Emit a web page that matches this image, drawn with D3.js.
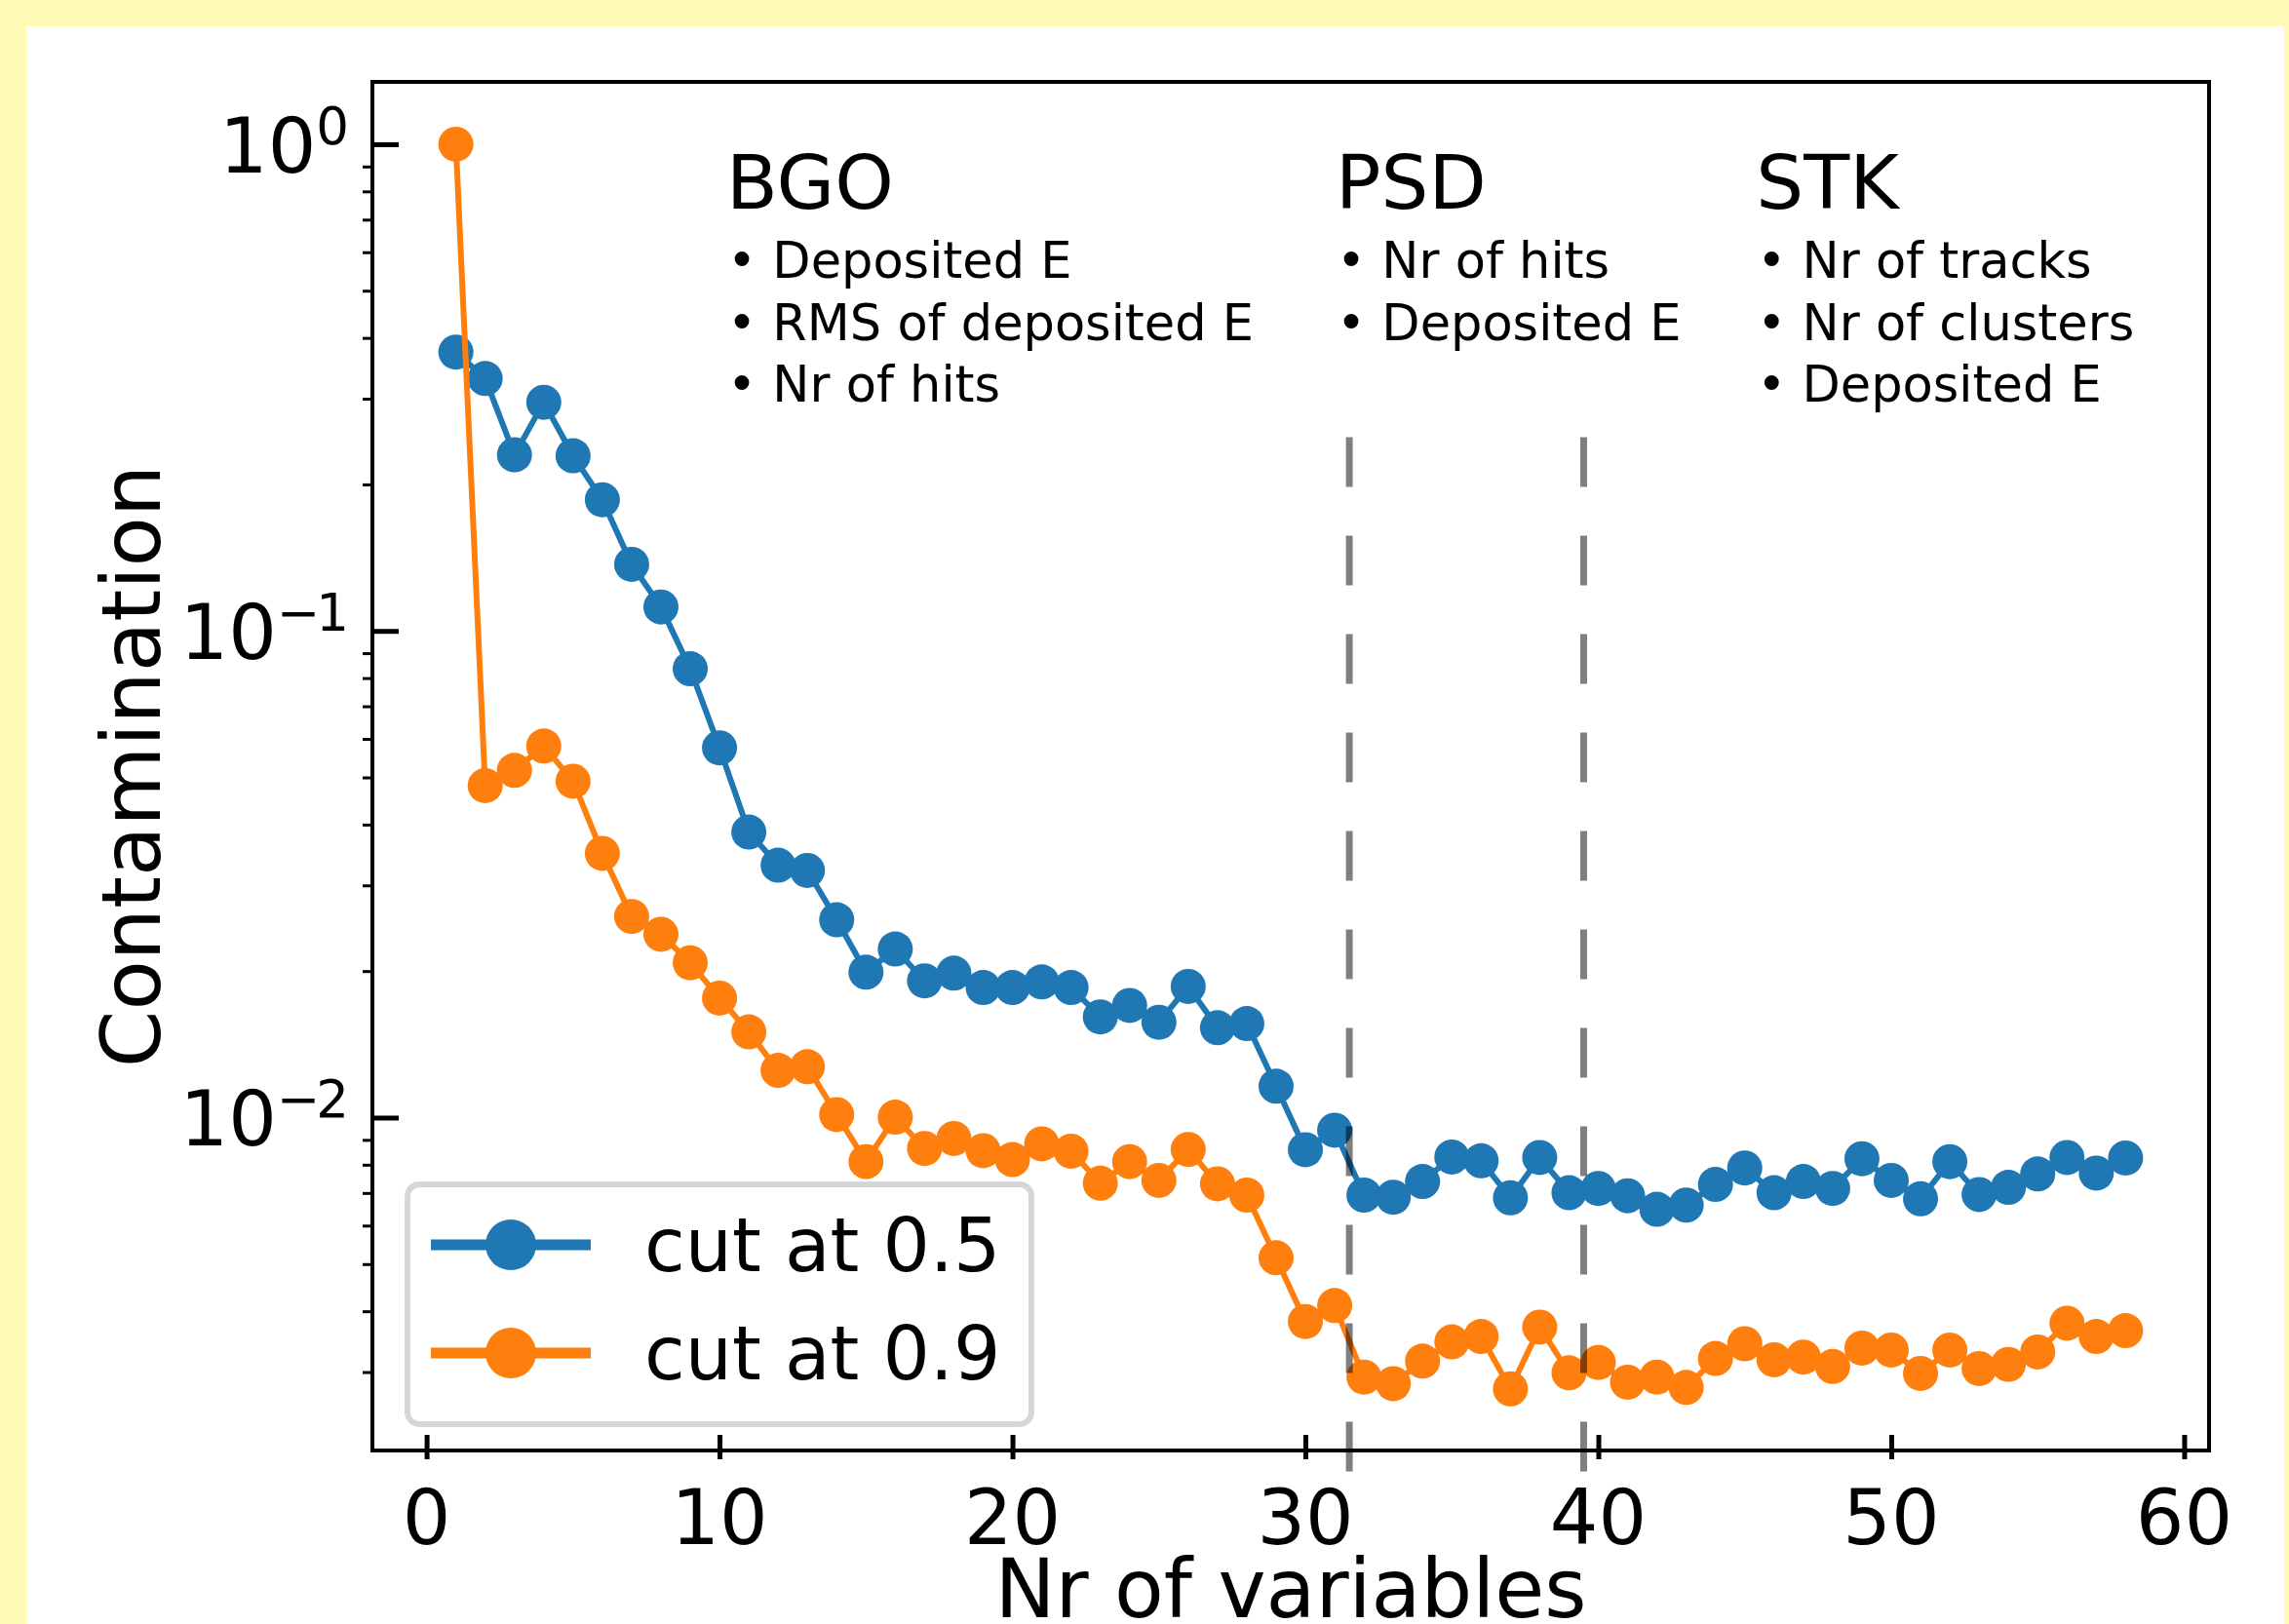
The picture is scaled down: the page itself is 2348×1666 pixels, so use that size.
<!DOCTYPE html>
<html>
<head>
<script src="https://d3js.org/d3.v7.min.js"></script>
<style>
  body { margin: 0; background: #fffab6; }
  svg text { font-family: "DejaVu Sans", sans-serif; fill: black; }
</style>
</head>
<body>
<svg id="plt"></svg>
<script>
// number of variables used (x axis)
const nVars = [1,2,3,4,5,6,7,8,9,10,11,12,13,14,15,16,17,18,19,20,
               21,22,23,24,25,26,27,28,29,30,31,32,33,34,35,36,37,38,39,40,
               41,42,43,44,45,46,47,48,49,50,51,52,53,54,55,56,57,58];

// contamination, cut at 0.5
const cut05 = [0.374,0.330,0.230,0.295,0.229,0.186,0.137,0.112,0.0836,0.0575,
               0.0386,0.0330,0.0322,0.0255,0.0199,0.0222,0.0191,0.0198,0.0185,0.0185,
               0.0190,0.0185,0.0161,0.0170,0.0157,0.0186,0.0153,0.0156,0.0116,0.00859,
               0.00942,0.00693,0.00686,0.00739,0.0083,0.00815,0.00684,0.00828,0.00701,0.00715,
               0.00691,0.00648,0.00661,0.00729,0.00788,0.00701,0.00739,0.00715,0.00823,0.00743,
               0.00681,0.00812,0.00695,0.00719,0.00766,0.00828,0.00769,0.00826];

// contamination, cut at 0.9
const cut09 = [1.0,0.0481,0.0517,0.058,0.0491,0.0349,0.0259,0.0238,0.0208,0.0176,
               0.0150,0.0125,0.01272,0.01014,0.00812,0.01002,0.00864,0.00906,0.00855,0.0082,
               0.00883,0.00853,0.00733,0.00812,0.00743,0.0086,0.00731,0.00693,0.00515,0.00381,
               0.00411,0.00293,0.00284,0.00316,0.00346,0.00355,0.00277,0.00371,0.00299,0.00314,
               0.00286,0.00293,0.00279,0.0032,0.00343,0.00318,0.00322,0.00308,0.00336,0.00333,
               0.00298,0.00333,0.00305,0.00311,0.0033,0.00378,0.00355,0.00365];

const seriesNames = ['cut at 0.5', 'cut at 0.9'];
const seriesColors = ['#1f77b4', '#ff7f0e'];

const xTicks = [0,10,20,30,40,50,60];
const yMajor = [1, 0.1, 0.01];
const yExp = ['0', '\u22121', '\u22122'];
const yMinor = [0.003,0.004,0.005,0.006,0.007,0.008,0.009,
                0.02,0.03,0.04,0.05,0.06,0.07,0.08,0.09,
                0.2,0.3,0.4,0.5,0.6,0.7,0.8,0.9];

// detector groups and the dashed separators
const groupNames = ['BGO', 'PSD', 'STK'];
const groupX = [10.4, 31.2, 45.55];
const groupItems = [
  ['Deposited E', 'RMS of deposited E', 'Nr of hits'],
  ['Nr of hits', 'Deposited E'],
  ['Nr of tracks', 'Nr of clusters', 'Deposited E']
];
const dividerX = [31.5, 39.5];
const dividerRange = [0.25, 0.00187];

const W = 2348, H = 1666;
const svg = d3.select('#plt').attr('width', W).attr('height', H);

svg.append('rect').attr('width', W).attr('height', H).attr('fill', '#fffab6');
svg.append('rect').attr('x', 27).attr('y', 27).attr('width', 2316).attr('height', H).attr('fill', 'white');

const pLeft = 382, pRight = 2266, pTop = 84, pBottom = 1488;

let x = d3.scaleLinear().domain([-1.85, 60.85]).range([pLeft, pRight]);
let y = d3.scaleLog().domain([0.00207, 1.343]).range([pBottom, pTop]);

// y minor ticks (outward)
svg.append('g')
   .attr('transform', `translate(${pLeft},0)`)
   .call(d3.axisLeft(y).tickValues(yMinor).tickSize(10).tickFormat(''))
   .call(g => g.select('.domain').remove())
   .call(g => g.selectAll('.tick line').attr('stroke-width', 3));

// y major ticks (inward)
svg.append('g')
   .attr('transform', `translate(${pLeft},0)`)
   .call(d3.axisLeft(y).tickValues(yMajor).tickSizeInner(-27).tickFormat(''))
   .call(g => g.select('.domain').remove())
   .call(g => g.selectAll('.tick line').attr('stroke-width', 5));

// y tick labels 10^k
yMajor.forEach((v, i) => {
  let t = svg.append('text')
     .attr('x', 354)
     .attr('y', y(v) + 29)
     .attr('text-anchor', 'end')
     .style('font-size', '78px');
  t.append('tspan').text('10');
  t.append('tspan').attr('dy', -29)
   .style('font-size', '53px')
   .style('letter-spacing', '-4px')
   .text(yExp[i]);
});

// x ticks (in and out)
svg.append('g')
   .attr('transform', `translate(0,${pBottom})`)
   .call(d3.axisBottom(x).tickValues(xTicks).tickSize(9).tickFormat(''))
   .call(g => g.select('.domain').remove())
   .call(g => g.selectAll('.tick line').attr('y1', -16).attr('stroke-width', 5));

svg.append('g').selectAll('text')
   .data(xTicks)
   .join('text')
   .attr('x', d => x(d))
   .attr('y', 1584)
   .attr('text-anchor', 'middle')
   .style('font-size', '78px')
   .text(d => d);

// axis labels
svg.append('text')
   .attr('x', (pLeft + pRight) / 2)
   .attr('y', 1659)
   .attr('text-anchor', 'middle')
   .style('font-size', '83px')
   .text('Nr of variables');

svg.append('text')
   .attr('transform', `translate(164,${(pTop + pBottom) / 2}) rotate(-90)`)
   .attr('text-anchor', 'middle')
   .style('font-size', '84px')
   .text('Contamination');

// the two series
const line = d3.line().x(d => x(d[0])).y(d => y(d[1]));
[cut05, cut09].forEach((vals, i) => {
  let pts = nVars.map((n, j) => [n, vals[j]]);
  let g = svg.append('g');
  g.append('path')
   .attr('d', line(pts))
   .attr('fill', 'none')
   .attr('stroke', seriesColors[i])
   .attr('stroke-width', 6)
   .attr('stroke-linejoin', 'round');
  g.selectAll('circle')
   .data(pts)
   .join('circle')
   .attr('cx', d => x(d[0]))
   .attr('cy', d => y(d[1]))
   .attr('r', 18)
   .attr('fill', seriesColors[i]);
});

// dashed separators
svg.append('g').selectAll('line')
   .data(dividerX)
   .join('line')
   .attr('x1', d => x(d)).attr('x2', d => x(d))
   .attr('y1', y(dividerRange[0])).attr('y2', y(dividerRange[1]))
   .attr('stroke', 'black')
   .attr('stroke-opacity', 0.5)
   .attr('stroke-width', 7)
   .attr('stroke-dasharray', '51 50');

// group annotations
groupNames.forEach((name, i) => {
  let gx = x(groupX[i]);
  svg.append('text')
     .attr('x', gx - 5)
     .attr('y', 214)
     .style('font-size', '77px')
     .text(name);
  groupItems[i].forEach((item, k) => {
    svg.append('text')
       .attr('x', gx - 4)
       .attr('y', 285 + k * 63.7)
       .style('font-size', '51px')
       .text('\u2022 ' + item);
  });
});

// frame
svg.append('rect')
   .attr('x', pLeft).attr('y', pTop)
   .attr('width', pRight - pLeft).attr('height', pBottom - pTop)
   .attr('fill', 'none')
   .attr('stroke', 'black')
   .attr('stroke-width', 4);

// legend
let lg = svg.append('g');
lg.append('rect')
  .attr('x', 418).attr('y', 1215)
  .attr('width', 640).attr('height', 246)
  .attr('rx', 12)
  .attr('fill', 'white')
  .attr('stroke', '#d6d6d6')
  .attr('stroke-width', 6);
seriesNames.forEach((name, i) => {
  let cy = 1277 + i * 111;
  lg.append('line')
    .attr('x1', 442).attr('x2', 606)
    .attr('y1', cy).attr('y2', cy)
    .attr('stroke', seriesColors[i])
    .attr('stroke-width', 11);
  lg.append('circle')
    .attr('cx', 524).attr('cy', cy).attr('r', 26)
    .attr('fill', seriesColors[i]);
  lg.append('text')
    .attr('x', 661).attr('y', cy + 27)
    .style('font-size', '76px')
    .text(name);
});
</script>
</body>
</html>
